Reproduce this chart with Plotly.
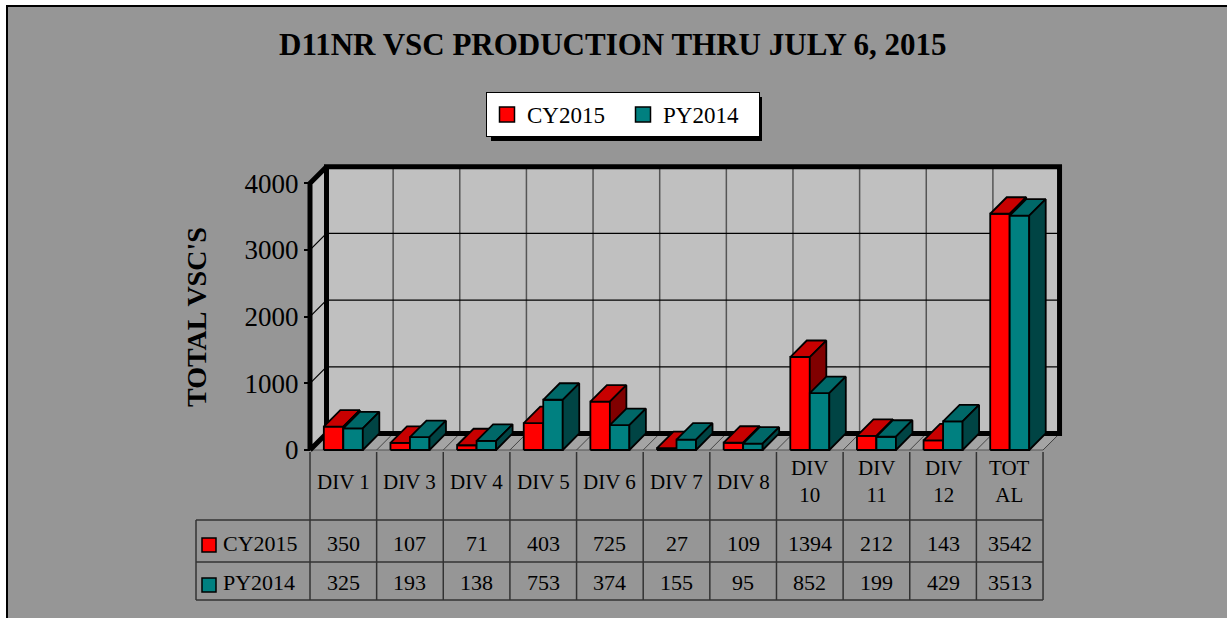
import plotly.graph_objects as go

# ---------------- data ----------------
categories = ["DIV 1", "DIV 3", "DIV 4", "DIV 5", "DIV 6", "DIV 7", "DIV 8",
              "DIV 10", "DIV 11", "DIV 12", "TOTAL"]
tick_labels = ["DIV 1", "DIV 3", "DIV 4", "DIV 5", "DIV 6", "DIV 7", "DIV 8",
               "DIV<br>10", "DIV<br>11", "DIV<br>12", "TOT<br>AL"]
cy2015 = [350, 107, 71, 403, 725, 27, 109, 1394, 212, 143, 3542]
py2014 = [325, 193, 138, 753, 374, 155, 95, 852, 199, 429, 3513]
series_names = ["CY2015", "PY2014"]
y_ticks = [0, 1000, 2000, 3000, 4000]
title_text = "D11NR VSC PRODUCTION THRU JULY 6, 2015"
y_title = "TOTAL VSC'S"

# ---------------- styling / geometry ----------------
W, H = 1227, 618
FONT = "Liberation Serif"
CAT_PX = 66.64          # pixel width of one category column
X0_PX = 310.0           # pixel x of left edge of first category
Y0_PX = 450.0           # pixel y of value 0 on the front plane
PX_PER_UNIT = 0.0667    # pixels per value unit
YMAX = 4000

front_cols = ["#FF0000", "#008080"]
top_cols = ["#C80000", "#006868"]
side_cols = ["#800000", "#004444"]


def xd(px):
    return (px - X0_PX) / CAT_PX - 0.5


def yd(py):
    return (Y0_PX - py) / PX_PER_UNIT


def xp(px):
    return px / W


def yp(py):
    return 1 - py / H


BW = 19.5 / CAT_PX
DX = 16.5 / CAT_PX
DY = 16.5 / PX_PER_UNIT
N = len(categories)
XL, XR = -0.5, N - 0.5

fig = go.Figure()

# ---------------- bars (3D look via polygons) ----------------
for s, vals in enumerate([cy2015, py2014]):
    fx, fy, tx, ty, sx, sy = [], [], [], [], [], []
    for k, v in enumerate(vals):
        x0 = k - BW if s == 0 else k
        x1 = x0 + BW
        fx += [x0, x1, x1, x0, x0, None]
        fy += [0, 0, v, v, 0, None]
        tx += [x0, x1, x1 + DX, x0 + DX, x0, None]
        ty += [v, v, v + DY, v + DY, v, None]
        sx += [x1, x1 + DX, x1 + DX, x1, x1, None]
        sy += [0, DY, v + DY, v, 0, None]
    for xs, ys, col in [(fx, fy, front_cols[s]), (tx, ty, top_cols[s]), (sx, sy, side_cols[s])]:
        fig.add_trace(go.Scatter(x=xs, y=ys, mode="lines", fill="toself", fillcolor=col,
                                 line=dict(color="black", width=1.8), showlegend=False,
                                 hoverinfo="skip"))

# legend entries
for s, name in enumerate(series_names):
    fig.add_trace(go.Scatter(x=[None], y=[None], mode="markers", name=name,
                             marker=dict(symbol="square", size=15, color=front_cols[s],
                                         line=dict(color="black", width=1.5))))

shapes = []
# gray panel
shapes.append(dict(type="rect", xref="paper", yref="paper", x0=xp(7), x1=xp(1240), y0=yp(630), y1=yp(6),
                   fillcolor="#969696", line=dict(color="black", width=2), layer="below"))
# legend shadow
shapes.append(dict(type="rect", xref="paper", yref="paper", x0=xp(491), x1=xp(762), y0=yp(141), y1=yp(97),
                   fillcolor="black", line=dict(width=0), layer="below"))

# walls
shapes.append(dict(type="path", xref="x", yref="y",
                   path=f"M{XL},0 L{XR},0 L{XR+DX},{DY} L{XL+DX},{DY} Z",
                   fillcolor="#A4A4A4", line=dict(color="#555555", width=1), layer="below"))
for k in range(N + 1):
    shapes.append(dict(type="line", xref="x", yref="y", x0=XL + k, y0=0, x1=XL + k + DX, y1=DY,
                       line=dict(color="#444444", width=1), layer="below"))
shapes.append(dict(type="rect", xref="x", yref="y", x0=XL + DX, x1=XR + DX, y0=DY, y1=YMAX + DY,
                   fillcolor="#C0C0C0", line=dict(width=0), layer="below"))
shapes.append(dict(type="path", xref="x", yref="y",
                   path=f"M{XL},0 L{XL},{YMAX} L{XL+DX},{YMAX+DY} L{XL+DX},{DY} Z",
                   fillcolor="#C0C0C0", line=dict(width=0), layer="below"))
for k in range(1, N):
    shapes.append(dict(type="line", xref="x", yref="y", x0=XL + k + DX, x1=XL + k + DX, y0=DY, y1=YMAX + DY,
                       line=dict(color="#555555", width=1.5), layer="below"))
for t in y_ticks[1:-1]:
    shapes.append(dict(type="line", xref="x", yref="y", x0=XL + DX, x1=XR + DX, y0=t + DY, y1=t + DY,
                       line=dict(color="black", width=1.2), layer="below"))
    shapes.append(dict(type="line", xref="x", yref="y", x0=XL, x1=XL + DX, y0=t, y1=t + DY,
                       line=dict(color="black", width=1.2), layer="below"))
# thick frame edges
thick = dict(color="black", width=5)
shapes.append(dict(type="path", xref="x", yref="y",
                   path=f"M{XL+DX},{DY} L{XR+DX},{DY} L{XR+DX},{YMAX+DY} L{XL+DX},{YMAX+DY} Z",
                   line=thick, layer="below"))
shapes.append(dict(type="path", xref="x", yref="y",
                   path=f"M{XL},0 L{XL},{YMAX} L{XL+DX},{YMAX+DY} M{XL},0 L{XL+DX},{DY}",
                   line=thick, layer="below"))

# ---------------- data table ----------------
tcol = "#333333"
tw = 1.5
for k in range(N + 1):
    xx = XL + k
    shapes.append(dict(type="line", xref="x", yref="paper", x0=xx, x1=xx, y0=yp(452), y1=yp(600),
                       line=dict(color=tcol, width=tw)))
for py_ in [520, 562, 600]:
    shapes.append(dict(type="line", xref="paper", yref="paper", x0=xp(196), x1=xp(X0_PX + N * CAT_PX),
                       y0=yp(py_), y1=yp(py_), line=dict(color=tcol, width=tw)))
shapes.append(dict(type="line", xref="paper", yref="paper", x0=xp(196), x1=xp(196), y0=yp(520), y1=yp(600),
                   line=dict(color=tcol, width=tw)))

row_y = [543, 582]
key_y = [545, 585]
annotations = []
for k, lab in enumerate(tick_labels):
    annotations.append(dict(x=k, y=yp(482), xref="x", yref="paper", text=lab, showarrow=False,
                            xanchor="center", yanchor="middle",
                            font=dict(family=FONT, size=21, color="black")))
for s, vals in enumerate([cy2015, py2014]):
    shapes.append(dict(type="rect", xref="paper", yref="paper", x0=xp(202), x1=xp(216),
                       y0=yp(key_y[s] + 7), y1=yp(key_y[s] - 7), fillcolor=front_cols[s],
                       line=dict(color="black", width=1.5)))
    annotations.append(dict(x=xp(221), y=yp(row_y[s]), xref="paper", yref="paper", text=series_names[s],
                            showarrow=False, xanchor="left", yanchor="middle",
                            font=dict(family=FONT, size=22, color="black")))
    for k, v in enumerate(vals):
        annotations.append(dict(x=k, y=yp(row_y[s]), xref="x", yref="paper", text=str(v), showarrow=False,
                                xanchor="center", yanchor="middle",
                                font=dict(family=FONT, size=22, color="black")))

# y axis title
annotations.append(dict(x=xp(196), y=yp(317), xref="paper", yref="paper", text=f"<b>{y_title}</b>",
                        textangle=-90, showarrow=False, xanchor="center", yanchor="middle",
                        font=dict(family=FONT, size=28, color="black")))
# chart title
annotations.append(dict(x=xp(612), y=yp(45), xref="paper", yref="paper", text=f"<b>{title_text}</b>",
                        showarrow=False, xanchor="center", yanchor="middle",
                        font=dict(family=FONT, size=31, color="black")))

fig.update_layout(
    width=W, height=H,
    margin=dict(l=0, r=0, t=0, b=0),
    paper_bgcolor="white",
    plot_bgcolor="rgba(0,0,0,0)",
    shapes=shapes,
    annotations=annotations,
    showlegend=True,
    legend=dict(orientation="h", x=xp(486), xanchor="left", y=yp(92), yanchor="top",
                bgcolor="white", bordercolor="black", borderwidth=1,
                font=dict(family=FONT, size=23, color="black"), itemwidth=30,
                entrywidth=91, entrywidthmode="pixels"),
    xaxis=dict(visible=False, range=[xd(0), xd(W)], domain=[0, 1], fixedrange=True),
    yaxis=dict(range=[yd(H), yd(0)], domain=[0, 1], anchor="free", position=X0_PX / W,
               tickvals=y_ticks, ticktext=[str(t) for t in y_ticks], ticks="outside", ticklen=6,
               tickwidth=2, tickcolor="black", showgrid=False, zeroline=False, showline=False,
               tickfont=dict(family=FONT, size=27, color="black"), fixedrange=True),
)

fig.write_html("out.html", config={"displayModeBar": False},
               post_script="document.body.style.margin='0px';")
